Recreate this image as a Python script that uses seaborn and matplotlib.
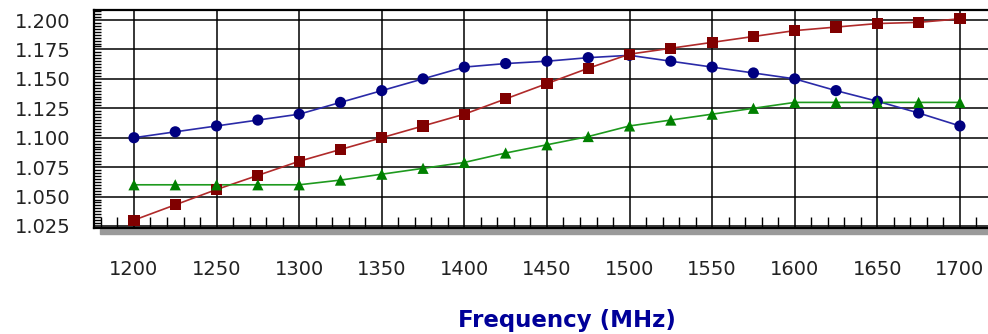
import matplotlib
matplotlib.use("Agg")
import matplotlib.pyplot as plt
from matplotlib.patches import Rectangle
from matplotlib.ticker import MultipleLocator, FormatStrFormatter
import numpy as np
import pandas as pd
import seaborn as sns

freq = [1200, 1225, 1250, 1275, 1300, 1325, 1350, 1375, 1400, 1425, 1450,
        1475, 1500, 1525, 1550, 1575, 1600, 1625, 1650, 1675, 1700]
blue = [1.100, 1.105, 1.110, 1.115, 1.120, 1.130, 1.140, 1.150, 1.160, 1.163, 1.165,
        1.168, 1.170, 1.165, 1.160, 1.155, 1.150, 1.140, 1.131, 1.121, 1.110]
red = [1.030, 1.043, 1.056, 1.068, 1.080, 1.090, 1.100, 1.110, 1.120, 1.133, 1.146,
       1.159, 1.171, 1.176, 1.181, 1.186, 1.191, 1.194, 1.197, 1.198, 1.201]
green = [1.060, 1.060, 1.060, 1.060, 1.060, 1.064, 1.069, 1.074, 1.079, 1.087, 1.094,
         1.101, 1.110, 1.115, 1.120, 1.125, 1.130, 1.130, 1.130, 1.130, 1.130]
series_names = ["blue", "red", "green"]
xlabel = "Frequency (MHz)"

df = pd.DataFrame({
    "freq": freq * 3,
    "value": blue + red + green,
    "series": [s for s in series_names for _ in freq],
})

sns.set_style("white")
plt.rcParams["font.family"] = ["DejaVu Sans"]

W, H = 988, 334
fig = plt.figure(figsize=(W / 100, H / 100), dpi=100)
left, right, top, bottom = 94, 988, 10, 228
ax = fig.add_axes([left / W, 1 - bottom / H, (right - left) / W, (bottom - top) / H])

line_pal = {"blue": "#2a2aa8", "red": "#b02a2a", "green": "#1e9a1e"}
mark_pal = {"blue": "#000080", "red": "#800000", "green": "#008000"}
markers = {"blue": "o", "red": "s", "green": "^"}

sns.lineplot(data=df, x="freq", y="value", hue="series", palette=line_pal,
             linewidth=1.2, legend=False, ax=ax, zorder=3)
sns.scatterplot(data=df, x="freq", y="value", hue="series", style="series",
                palette=mark_pal, markers=markers, s=65, linewidth=0,
                legend=False, ax=ax, zorder=4)

ax.set_xlim(1175.8, 1717)
ax.set_ylim(1.0233, 1.2085)
ax.xaxis.set_major_locator(MultipleLocator(50))
ax.xaxis.set_minor_locator(MultipleLocator(10))
ax.yaxis.set_major_locator(MultipleLocator(0.025))
ax.yaxis.set_minor_locator(MultipleLocator(0.0025))
ax.yaxis.set_major_formatter(FormatStrFormatter("%.3f"))
ax.xaxis.set_major_formatter(FormatStrFormatter("%d"))

ax.grid(True, which="major", color="black", linewidth=1.1)
ax.set_axisbelow(True)

ax.tick_params(axis="y", which="major", direction="out", length=7, width=1.2,
               labelsize=14, pad=10, colors="black", labelcolor="#222222")
ax.tick_params(axis="y", which="minor", direction="in", length=5, width=1.0,
               left=True, colors="black")
ax.tick_params(axis="x", which="major", direction="out", length=17, width=1.2,
               labelsize=14, pad=6, colors="black", labelcolor="#222222")
ax.tick_params(axis="x", which="minor", direction="in", length=8, width=1.0,
               bottom=True, colors="black")

for side in ["left", "bottom", "top"]:
    ax.spines[side].set_visible(True)
    ax.spines[side].set_color("black")
    ax.spines[side].set_linewidth(1.6)
ax.spines["right"].set_visible(False)

ax.set_xlabel("")
ax.set_ylabel("")

fig.patches.append(Rectangle((100 / W, 1 - 234 / H), 1, 5 / H,
                             transform=fig.transFigure, color="#9a9a9a", zorder=-1))

fig.text(567 / W, 1 - 320 / H, xlabel, ha="center", va="center",
         fontweight="bold", color="#000099", fontsize=16.5)

fig.savefig("out.png", dpi=100)
